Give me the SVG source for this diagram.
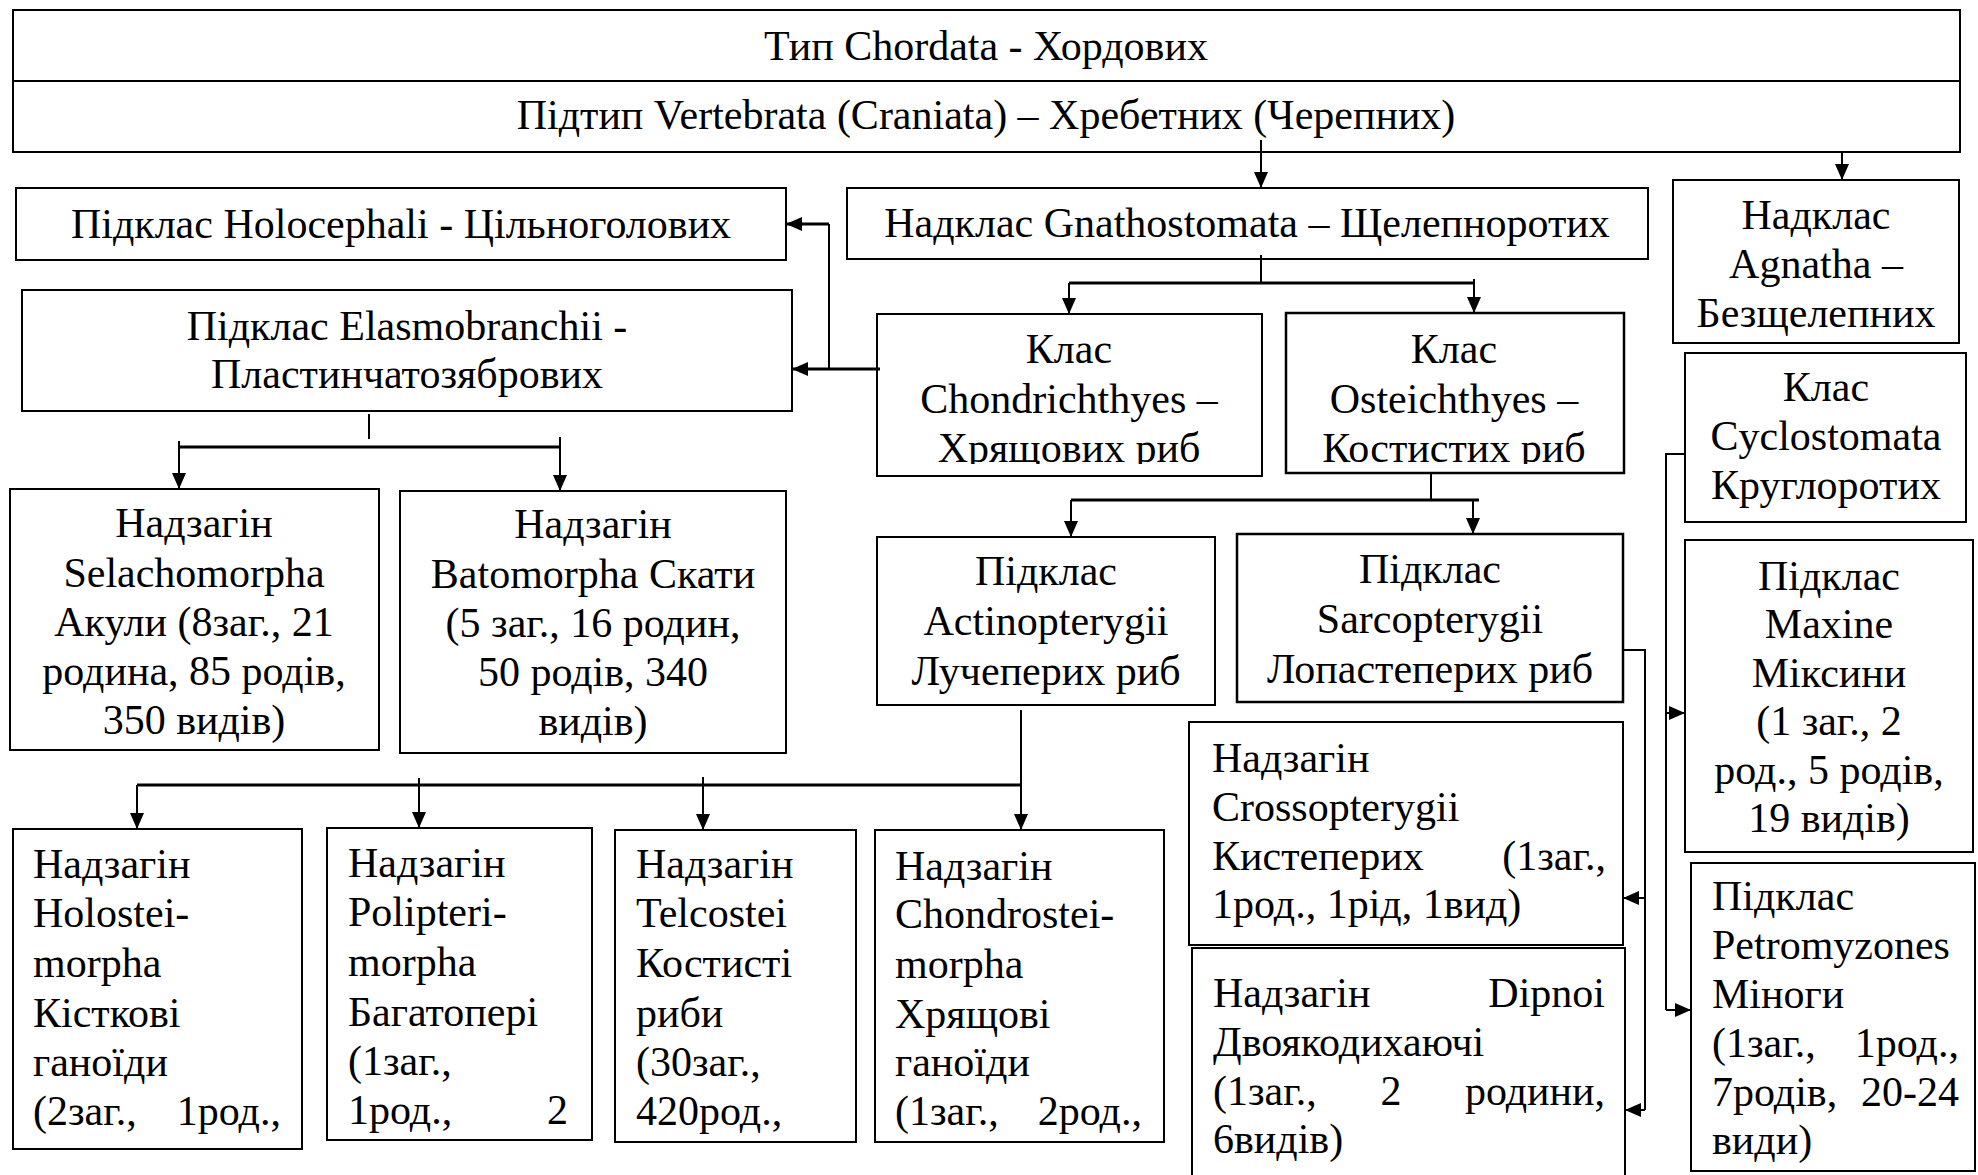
<svg xmlns="http://www.w3.org/2000/svg" width="1978" height="1175" viewBox="0 0 1978 1175">
<defs>
<marker id="ah" markerUnits="userSpaceOnUse" markerWidth="16" markerHeight="14" refX="16" refY="7" orient="auto"><path d="M0,0 L16,7 L0,14 z" fill="#000"/></marker>
<clipPath id="clipC"><rect x="870" y="300" width="760" height="164"/></clipPath>
</defs>
<style>
.box{fill:#fff;stroke:#000;stroke-width:2}
.t{font-family:"Liberation Serif","Times New Roman",serif;font-size:42px;fill:#000}
.c{text-anchor:middle}
.e{text-anchor:end}
.ln{fill:none;stroke:#000;stroke-width:2}
.th{stroke-width:3}
</style>
<rect width="1978" height="1175" fill="#fff"/>

<g id="n-chordata"><rect class="box" x="13" y="10" width="1947" height="71"/><text class="t c" x="986" y="60">Тип Chordata - Хордових</text></g>
<g id="n-vertebrata"><rect class="box" x="13" y="81" width="1947" height="71"/><text class="t c" x="986" y="129">Підтип Vertebrata (Craniata) – Хребетних (Черепних)</text></g>

<g id="n-holocephali"><rect class="box" x="16" y="188" width="770" height="72"/><text class="t c" x="401" y="238">Підклас Holocephali - Цільноголових</text></g>
<g id="n-elasmo"><rect class="box" x="22" y="290" width="770" height="121"/><text class="t c" x="407" y="340">Підклас Elasmobranchii -</text><text class="t c" x="407" y="388">Пластинчатозябрових</text></g>
<g id="n-gnatho"><rect class="box" x="847" y="188" width="801" height="71"/><text class="t c" x="1247" y="237">Надклас Gnathostomata – Щелепноротих</text></g>
<g id="n-agnatha"><rect class="box" x="1673" y="180" width="286" height="163"/><text class="t c" x="1816" y="229">Надклас</text><text class="t c" x="1816" y="278">Agnatha –</text><text class="t c" x="1816" y="327">Безщелепних</text></g>

<g id="n-chondrich"><rect class="box" x="877" y="314" width="385" height="162"/><g clip-path="url(#clipC)"><text class="t c" x="1069" y="363">Клас</text><text class="t c" x="1069" y="413">Chondrichthyes –</text><text class="t c" x="1069" y="462">Хрящових риб</text></g></g>
<g id="n-osteich"><rect class="box" x="1286" y="313" width="338" height="160" style="stroke-width:2.5"/><g clip-path="url(#clipC)"><text class="t c" x="1454" y="363">Клас</text><text class="t c" x="1454" y="413">Osteichthyes –</text><text class="t c" x="1454" y="462">Костистих риб</text></g></g>
<g id="n-cyclo"><rect class="box" x="1685" y="353" width="281" height="169"/><text class="t c" x="1826" y="401">Клас</text><text class="t c" x="1826" y="450">Cyclostomata</text><text class="t c" x="1826" y="499">Круглоротих</text></g>

<g id="n-selacho"><rect class="box" x="10" y="489" width="369" height="261"/><text class="t c" x="194" y="537">Надзагін</text><text class="t c" x="194" y="587">Selachomorpha</text><text class="t c" x="194" y="636">Акули (8заг., 21</text><text class="t c" x="194" y="685">родина, 85 родів,</text><text class="t c" x="194" y="734">350 видів)</text></g>
<g id="n-bato"><rect class="box" x="400" y="491" width="386" height="262"/><text class="t c" x="593" y="538">Надзагін</text><text class="t c" x="593" y="588">Batomorpha Скати</text><text class="t c" x="593" y="637">(5 заг., 16 родин,</text><text class="t c" x="593" y="686">50 родів, 340</text><text class="t c" x="593" y="735">видів)</text></g>
<g id="n-actino"><rect class="box" x="877" y="537" width="338" height="168"/><text class="t c" x="1046" y="585">Підклас</text><text class="t c" x="1046" y="635">Actinopterygii</text><text class="t c" x="1046" y="685">Лучеперих риб</text></g>
<g id="n-sarco"><rect class="box" x="1237" y="534" width="386" height="168" style="stroke-width:2.5"/><text class="t c" x="1430" y="583">Підклас</text><text class="t c" x="1430" y="633">Sarcopterygii</text><text class="t c" x="1430" y="683">Лопастеперих риб</text></g>
<g id="n-maxine"><rect class="box" x="1685" y="540" width="288" height="312"/><text class="t c" x="1829" y="590">Підклас</text><text class="t c" x="1829" y="638">Maxine</text><text class="t c" x="1829" y="687">Міксини</text><text class="t c" x="1829" y="735">(1 заг., 2</text><text class="t c" x="1829" y="784">род., 5 родів,</text><text class="t c" x="1829" y="832">19 видів)</text></g>

<g id="n-cross"><rect class="box" x="1189" y="722" width="434" height="223"/><text class="t" x="1212" y="772">Надзагін</text><text class="t" x="1212" y="821">Crossopterygii</text><text class="t" x="1212" y="870">Кистеперих</text><text class="t e" x="1606" y="870">(1заг.,</text><text class="t" x="1212" y="918">1род., 1рід, 1вид)</text></g>
<g id="n-dipnoi"><rect class="box" x="1192" y="948" width="433" height="240"/><text class="t" x="1213" y="1007">Надзагін</text><text class="t e" x="1605" y="1007">Dipnoi</text><text class="t" x="1213" y="1056">Двоякодихаючі</text><text class="t" x="1213" y="1105">(1заг.,</text><text class="t c" x="1391" y="1105">2</text><text class="t e" x="1605" y="1105">родини,</text><text class="t" x="1213" y="1153">6видів)</text></g>
<g id="n-petro"><rect class="box" x="1691" y="863" width="284" height="308"/><text class="t" x="1712" y="910">Підклас</text><text class="t" x="1712" y="959">Petromyzones</text><text class="t" x="1712" y="1008">Міноги</text><text class="t" x="1712" y="1057">(1заг.,</text><text class="t e" x="1959" y="1057">1род.,</text><text class="t" x="1712" y="1106">7родів,</text><text class="t e" x="1959" y="1106">20-24</text><text class="t" x="1712" y="1154">види)</text></g>

<g id="n-holostei"><rect class="box" x="13" y="829" width="289" height="320"/><text class="t" x="33" y="878">Надзагін</text><text class="t" x="33" y="927">Holostei-</text><text class="t" x="33" y="977">morpha</text><text class="t" x="33" y="1027">Кісткові</text><text class="t" x="33" y="1076">ганоїди</text><text class="t" x="33" y="1125">(2заг.,</text><text class="t e" x="281" y="1125">1род.,</text></g>
<g id="n-polipteri"><rect class="box" x="327" y="828" width="265" height="312"/><text class="t" x="348" y="877">Надзагін</text><text class="t" x="348" y="926">Polipteri-</text><text class="t" x="348" y="976">morpha</text><text class="t" x="348" y="1026">Багатопері</text><text class="t" x="348" y="1075">(1заг.,</text><text class="t" x="348" y="1124">1род.,</text><text class="t e" x="568" y="1124">2</text></g>
<g id="n-telcostei"><rect class="box" x="615" y="830" width="241" height="312"/><text class="t" x="636" y="878">Надзагін</text><text class="t" x="636" y="927">Telcostei</text><text class="t" x="636" y="977">Костисті</text><text class="t" x="636" y="1027">риби</text><text class="t" x="636" y="1076">(30заг.,</text><text class="t" x="636" y="1125">420род.,</text></g>
<g id="n-chondrostei"><rect class="box" x="875" y="830" width="289" height="312"/><text class="t" x="895" y="880">Надзагін</text><text class="t" x="895" y="928">Chondrostei-</text><text class="t" x="895" y="978">morpha</text><text class="t" x="895" y="1028">Хрящові</text><text class="t" x="895" y="1076">ганоїди</text><text class="t" x="895" y="1125">(1заг.,</text><text class="t e" x="1142" y="1125">2род.,</text></g>

<g id="connectors">
<path class="ln" d="M1261,140 V188" marker-end="url(#ah)"/>
<path class="ln" d="M1842,152 V180" marker-end="url(#ah)"/>
<path class="ln" d="M1261,255 V283"/>
<path class="ln th" d="M1069,283 H1474"/>
<path class="ln" d="M1069,283 V314" marker-end="url(#ah)"/>
<path class="ln" d="M1474,279 V313" marker-end="url(#ah)"/>
<path class="ln th" d="M880,369 H792" marker-end="url(#ah)"/>
<path class="ln" d="M829,369 V224"/>
<path class="ln th" d="M829,224 H786" marker-end="url(#ah)"/>
<path class="ln" d="M369,414 V439"/>
<path class="ln th" d="M179,447 H560"/>
<path class="ln" d="M179,441 V489" marker-end="url(#ah)"/>
<path class="ln" d="M560,437 V491" marker-end="url(#ah)"/>
<path class="ln" d="M1431,473 V500"/>
<path class="ln th" d="M1071,500 H1479"/>
<path class="ln" d="M1071,500 V537" marker-end="url(#ah)"/>
<path class="ln" d="M1473,500 V534" marker-end="url(#ah)"/>
<path class="ln" d="M1021,710 V830" marker-end="url(#ah)"/>
<path class="ln th" d="M137,785 H1021"/>
<path class="ln" d="M137,785 V829" marker-end="url(#ah)"/>
<path class="ln" d="M419,778 V828" marker-end="url(#ah)"/>
<path class="ln" d="M703,777 V830" marker-end="url(#ah)"/>
<path class="ln" d="M1623,650 H1645 V1110"/>
<path class="ln" d="M1645,898 H1623" marker-end="url(#ah)"/>
<path class="ln" d="M1645,1110 H1625" marker-end="url(#ah)"/>
<path class="ln" d="M1685,454 H1666 V1010"/>
<path class="ln" d="M1666,713 H1685" marker-end="url(#ah)"/>
<path class="ln" d="M1666,1010 H1691" marker-end="url(#ah)"/>
</g>
</svg>
